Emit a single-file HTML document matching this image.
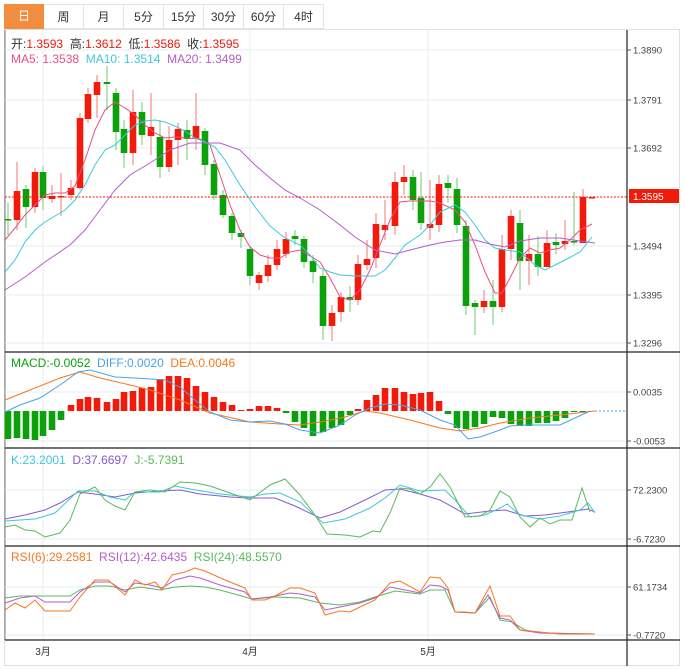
<!DOCTYPE html>
<html><head><meta charset="utf-8"><style>
body{margin:0;background:#fff;font-family:"Liberation Sans","Noto Sans CJK SC",sans-serif}
#w{position:relative;width:685px;height:670px;overflow:hidden}
.tab{position:absolute;top:4px;height:25px;width:40px;border:1px solid #e4e4e4;border-left:none;box-sizing:border-box;text-align:center;line-height:24px;font-size:12px;color:#333;background:#fff}
</style></head><body><div id="w">
<div class="tab" style="left:4px;background:#f28c3f;color:#fff;border:none">日</div>
<div class="tab" style="left:44px">周</div>
<div class="tab" style="left:84px">月</div>
<div class="tab" style="left:124px">5分</div>
<div class="tab" style="left:164px">15分</div>
<div class="tab" style="left:204px">30分</div>
<div class="tab" style="left:244px">60分</div>
<div class="tab" style="left:284px">4时</div>
<svg id="s" width="685" height="670" style="position:absolute;left:0;top:0" font-family="Liberation Sans, Noto Sans CJK SC, sans-serif"></svg>
</div>
<script>
const S=document.getElementById('s');let h='';
h+='<rect x="4.5" y="29.5" width="675" height="636" fill="none" stroke="#e0e0e0"/>';
h+='<line x1="5" y1="30" x2="5" y2="640" stroke="#555" stroke-width="0.8"/>';
[50,100,148,246,295,343,392,441,490,539,587,635].forEach(y=>h+=`<line x1="5" x2="627" y1="${y}" y2="${y}" stroke="#e6eef3"/>`);
[43,250,428].forEach(x=>h+=`<line x1="${x}" x2="${x}" y1="30" y2="640" stroke="#e6eef3"/>`);
[352,448,546,640].forEach(y=>h+=`<line x1="5" x2="680" y1="${y}" y2="${y}" stroke="#222" stroke-width="1.2"/>`);
h+='<line x1="627" x2="627" y1="30" y2="666" stroke="#222" stroke-width="1.2"/>';
const labs=[[50,'1.3890'],[100,'1.3791'],[148,'1.3692'],[246,'1.3494'],[295,'1.3395'],[343,'1.3296'],[392,'0.0035'],[441,'-0.0053'],[490,'72.2300'],[539,'-6.7230'],[587,'61.1734'],[635,'-0.7720']];
labs.forEach(([y,t])=>h+=`<line x1="627" x2="631" y1="${y}" y2="${y}" stroke="#555"/><text x="633" y="${y+3.5}" font-size="9.5" fill="#444">${t}</text>`);
[[43,'3月'],[250,'4月'],[428,'5月']].forEach(([x,t])=>h+=`<text x="${x}" y="655" font-size="10" fill="#333" text-anchor="middle">${t}</text>`);
const C=[[8,219,220,0],[17,191,220,1],[26,189,207,0],[35,172,207,1],[43,172,198,0],[52,196,199,1],[61,196,197,1],[71,188,195,1],[80,118,188,1],[88,94,119,1],[97,82,95,1],[107,82,84,0],[116,93,132,0],[124,129,153,0],[133,112,153,1],[142,112,135,0],[151,127,136,1],[160,137,167,0],[169,140,167,1],[178,129,140,1],[187,130,139,0],[196,126,139,1],[205,131,165,0],[214,164,195,0],[223,195,215,0],[232,216,233,0],[241,233,237,0],[250,249,276,0],[259,275,283,1],[268,265,276,1],[277,249,265,1],[286,239,254,1],[295,236,239,0],[304,239,262,0],[313,261,272,0],[323,276,326,0],[332,313,326,1],[341,297,312,1],[350,297,300,0],[358,264,300,1],[367,259,265,1],[376,224,258,1],[385,225,230,1],[395,182,226,1],[404,177,182,1],[413,177,200,0],[421,198,223,0],[430,224,228,1],[439,184,225,1],[448,183,188,0],[457,189,225,0],[466,226,306,0],[475,303,307,0],[484,301,307,1],[493,301,307,0],[502,249,307,1],[511,216,249,1],[520,223,261,0],[529,254,261,1],[538,254,267,0],[547,243,267,1],[556,242,245,0],[565,241,244,1],[574,241,242,0],[583,197,243,1],[592,197,198,1]];
const hi=[203,162,185,168,166,185,173,180,113,88,75,66,88,120,90,102,93,120,126,123,120,93,128,160,190,213,230,246,272,255,240,232,230,236,255,270,305,292,286,255,240,213,200,172,165,170,172,180,175,175,178,220,300,290,280,235,210,210,235,236,230,233,220,192,189];
const lo=[235,230,228,213,210,203,216,200,190,123,118,110,150,168,165,145,155,178,172,165,160,150,175,200,218,240,248,285,290,282,270,258,245,268,283,340,341,322,312,305,270,268,240,235,195,210,230,240,232,203,233,315,335,313,325,312,260,290,285,276,262,254,250,245,200];
C.forEach((c,i)=>{const col=c[3]?'#f21a0a':'#0aa10a',wc=c[3]?'#f47a72':'#6ccc6c';
h+=`<line x1="${c[0]}" x2="${c[0]}" y1="${hi[i]}" y2="${lo[i]}" stroke="${wc}"/>`;
h+=`<rect x="${c[0]-3.3}" y="${c[1]}" width="6.6" height="${Math.max(1.5,c[2]-c[1])}" fill="${col}"/>`;});
function pl(p,c,w){h+=`<polyline fill="none" stroke="${c}" stroke-width="${w||1}" points="${p}"/>`;}
pl('5,240 15,228 25,215 35,205 45,195 55,193 65,193 75,186 85,160 95,130 105,110 115,102 125,108 135,115 145,125 155,133 165,138 175,137 185,138 200,139 210,145 220,175 230,205 240,230 250,247 260,255 270,258 280,258 290,252 300,250 310,256 320,262 330,278 340,297 350,300 360,290 370,270 380,245 390,220 400,202 410,201 420,201 430,201 440,203 455,210 465,222 475,245 485,272 495,293 502,293 510,278 520,258 530,248 540,253 550,250 560,248 570,240 580,230 592,224','#ec4d86');
pl('5,272 15,260 25,242 35,230 45,222 55,216 65,210 75,200 85,185 95,165 105,150 115,145 125,135 135,125 145,121 155,120 165,122 175,126 185,131 195,138 205,142 215,147 225,160 240,185 255,207 270,226 285,238 300,245 310,255 320,268 330,272 340,275 355,276 375,276 385,270 395,258 405,245 420,235 430,225 440,212 455,205 465,212 475,225 485,240 495,248 505,250 520,252 535,265 545,270 555,265 565,260 580,252 592,237','#3cc8dc');
pl('5,290 25,277 45,262 70,245 85,230 100,210 115,190 130,175 150,163 170,150 190,143 205,143 220,143 240,150 255,165 270,178 285,190 300,198 320,210 340,225 355,237 375,250 395,254 410,250 430,245 445,242 460,240 475,240 490,244 505,247 520,241 540,238 560,238 580,241 595,243','#b65ccb');
h+='<line x1="5" x2="627" y1="197" y2="197" stroke="#f21a0a" stroke-dasharray="2,1.5"/>';
h+='<rect x="629" y="189" width="50" height="14" fill="#f21a0a"/><text x="633" y="200" font-size="10" fill="#fff">1.3595</text>';
const mb=[439,438,439,440,436,430,420,405,399,397,398,402,399,392,391,388,387,379,376,376,378,386,392,397,402,405,410,409,406,406,408,413,422,428,436,432,428,425,415,409,400,395,388,388,392,394,393,392,401,414,428,429,427,424,417,418,424,426,426,423,423,421,418,412,411];
mb.forEach((y,i)=>{const x=C[i][0];const r=y<411;h+=`<rect x="${x-3.3}" y="${Math.min(y,411)}" width="6.6" height="${Math.max(1,Math.abs(y-411))}" fill="${r?'#f21a0a':'#0aa10a'}"/>`;});
pl('5,400 30,390 60,378 80,372 100,378 130,385 150,390 180,400 210,413 250,422 280,424 300,425 320,422 345,417 365,411 380,413 410,420 440,428 460,431 480,428 500,423 530,418 560,415 595,411','#f5781e');
pl('5,412 20,405 40,398 60,385 78,372 90,370 115,377 135,378 165,380 180,387 195,400 210,412 230,420 250,422 270,421 285,424 300,430 320,433 340,425 355,415 370,408 385,404 400,405 420,410 440,420 455,425 468,439 480,437 500,430 510,426 525,425 540,425 560,425 575,418 590,411','#4aa2ea');
h+='<line x1="595" x2="627" y1="411" y2="411" stroke="#4aa2ea" stroke-dasharray="2,2"/>';
pl('5,519 25,515 45,510 60,503 78,492 95,494 115,497 135,493 160,491 180,490 200,494 230,497 250,498 275,498 295,506 320,518 340,512 365,500 385,490 400,489 420,494 440,500 465,514 490,511 505,510 525,516 545,515 575,511 588,509 595,512','#8858cc');
pl('5,521 20,520 35,519 55,513 78,491 95,491 110,497 125,500 135,492 160,492 175,486 190,489 220,494 250,497 265,494 280,493 300,502 323,523 345,519 370,508 385,498 400,485 420,491 445,490 455,500 470,517 485,515 500,508 507,504 520,515 540,519 560,516 580,510 588,503 595,513','#3cc8dc');
pl('5,527 15,525 25,530 35,531 45,537 60,533 70,520 80,494 95,487 105,500 115,506 125,510 135,492 150,490 165,492 180,482 195,483 210,486 230,493 250,500 270,485 285,479 300,495 315,515 327,534 345,535 360,537 373,531 380,532 390,513 400,488 410,489 420,494 430,487 440,474 450,487 465,517 480,516 490,510 500,491 510,497 520,517 530,527 540,518 550,524 560,520 572,520 582,488 590,512','#5cb85c');
pl('5,598 20,596 35,596 70,596 80,590 95,586 110,586 125,590 140,587 160,590 175,587 190,586 205,587 220,590 245,597 252,599 275,597 300,598 320,603 340,605 360,602 375,597 395,591 420,594 430,590 445,590 455,612 475,613 490,597 500,620 512,622 525,630 540,633 595,634','#5cb85c');
pl('5,603 20,598 35,596 45,602 70,602 80,592 95,582 110,582 125,592 135,583 150,585 162,588 175,580 190,576 200,578 220,585 245,592 252,599 270,597 290,593 300,594 315,597 325,610 340,607 360,603 375,598 390,587 400,589 420,593 430,585 440,586 448,590 455,612 475,613 488,595 500,618 510,620 520,630 540,633 595,634','#b65ccb');
pl('5,610 15,603 25,608 35,600 45,611 70,611 80,597 95,580 108,580 125,595 135,580 145,585 155,582 162,590 172,575 185,572 195,568 205,571 225,580 245,588 252,600 265,600 275,596 290,588 300,588 315,593 325,615 340,611 350,612 360,607 375,600 390,583 400,581 420,592 430,577 440,578 448,588 455,612 465,612 475,613 490,586 500,616 510,616 520,630 540,632 560,634 595,634','#f5781e');
h+='<text x="11" y="48" font-size="12" xml:space="preserve"><tspan fill="#333">开:</tspan><tspan fill="#f21a0a">1.3593</tspan><tspan fill="#333">  高:</tspan><tspan fill="#f21a0a">1.3612</tspan><tspan fill="#333">  低:</tspan><tspan fill="#f21a0a">1.3586</tspan><tspan fill="#333">  收:</tspan><tspan fill="#f21a0a">1.3595</tspan></text>';
h+='<text x="11" y="63" font-size="12" xml:space="preserve"><tspan fill="#ec4d86">MA5: 1.3538</tspan><tspan fill="#3cc8dc">  MA10: 1.3514</tspan><tspan fill="#b65ccb">  MA20: 1.3499</tspan></text>';
h+='<text x="11" y="367" font-size="12" xml:space="preserve"><tspan fill="#0aa10a">MACD:-0.0052</tspan><tspan fill="#4aa2ea">  DIFF:0.0020</tspan><tspan fill="#f5781e">  DEA:0.0046</tspan></text>';
h+='<text x="11" y="464" font-size="12" xml:space="preserve"><tspan fill="#3cc8dc">K:23.2001</tspan><tspan fill="#8858cc">  D:37.6697</tspan><tspan fill="#5cb85c">  J:-5.7391</tspan></text>';
h+='<text x="11" y="561" font-size="12" xml:space="preserve"><tspan fill="#f5781e">RSI(6):29.2581</tspan><tspan fill="#b65ccb">  RSI(12):42.6435</tspan><tspan fill="#5cb85c">  RSI(24):48.5570</tspan></text>';
S.innerHTML=h;
</script></body></html>
